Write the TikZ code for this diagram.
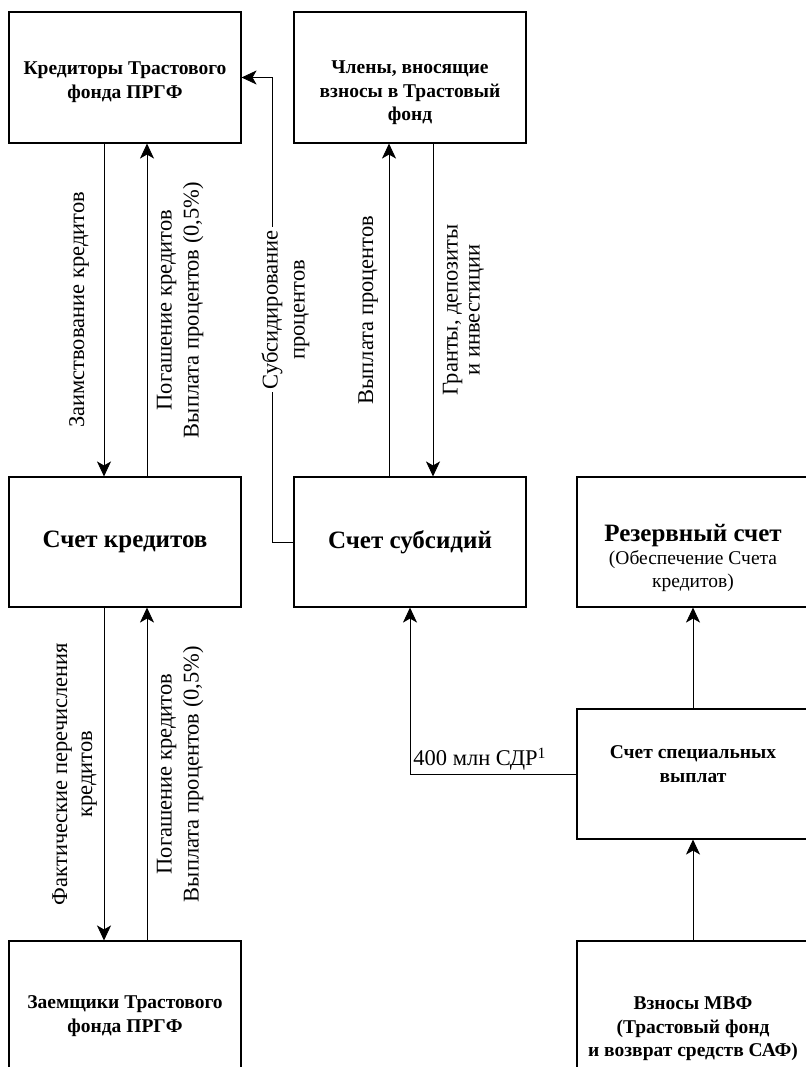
\documentclass[tikz,border=0pt]{standalone}
\usepackage{fontspec}
\setmainfont{Liberation Serif}
\usetikzlibrary{arrows.meta, positioning}

\begin{document}
\begin{tikzpicture}[
        x=1pt, y=-1pt,
        box/.style={draw, line width=1.1pt, minimum width=232pt, minimum height=131pt, align=center, inner sep=2pt},
        title/.style={font=\fontsize{19.5}{23.5}\selectfont\bfseries},
        bigtitle/.style={font=\fontsize{25}{30}\selectfont\bfseries},
        lbl/.style={font=\fontsize{22.5}{27}\selectfont, align=center, rotate=90, inner sep=0pt},
        flow/.style={line width=0.8pt},
        >={Stealth[length=15pt, width=14pt, inset=4pt]}
      ]
        \useasboundingbox (0,0) rectangle (805,1067);

        % boxes
        \node[box, title] (cred) at (125,77.5) {\rule{0pt}{22pt}Кредиторы Трастового\\фонда ПРГФ};
        \node[box, title] (memb) at (410,77.5) {\rule{0pt}{44pt}Члены, вносящие\\взносы в Трастовый\\фонд};
        \node[box, bigtitle, minimum height=130pt] (loans) at (125,542) {Счет кредитов};
        \node[box, bigtitle, minimum height=130pt] (subs) at (410,542) {Счет субсидий};
        \node[box, minimum height=130pt, font=\fontsize{19.5}{23}\selectfont] (resv) at (693,542)
          {\rule{0pt}{50pt}{\fontsize{25}{30}\selectfont\bfseries Резервный счет}\\(Обеспечение Счета\\кредитов)};
        \node[box, title, minimum height=130pt] (spec) at (693,774) {Счет специальных\\выплат\rule[-20pt]{0pt}{20pt}};
        \node[box, title] (borr) at (125,1006.5) {\rule{0pt}{32pt}Заемщики Трастового\\фонда ПРГФ};
        \node[box, title] (imf) at (693,1006.5) {\rule{0pt}{58pt}Взносы МВФ\\(Трастовый фонд\\и возврат средств САФ)};

        % flows between creditors, loans and borrowers
        \draw[flow, ->] ([xshift=-21pt]cred.south) -- node[lbl, anchor=south, outer sep=15pt] {Заимствование кредитов} ([xshift=-21pt]loans.north);
        \draw[flow, ->] ([xshift=22pt]loans.north) -- node[lbl, anchor=north, outer sep=10pt] {Погашение кредитов\\Выплата процентов (0,5\%)} ([xshift=22pt]cred.south);
        \draw[flow, ->] ([xshift=-21pt]loans.south) -- node[lbl, anchor=south, outer sep=7pt] {Фактические перечисления\\[-2pt]кредитов} ([xshift=-21pt]borr.north);
        \draw[flow, ->] ([xshift=22pt]borr.north) -- node[lbl, anchor=north, outer sep=10pt] {Погашение кредитов\\Выплата процентов (0,5\%)} ([xshift=22pt]loans.south);

        % subsidy flows
        \draw[flow, ->] (subs.west) -- ++(-21,0) |- node[lbl, pos=0.25, anchor=north, outer sep=-14pt, inner sep=3pt, fill=white] {Субсидирование\\процентов} (cred.east);
        \draw[flow, ->] ([xshift=-21pt]subs.north) -- node[lbl, anchor=south, outer sep=11pt] {Выплата процентов} ([xshift=-21pt]memb.south);
        \draw[flow, ->] ([xshift=23pt]memb.south) -- node[lbl, anchor=north, outer sep=10pt] {Гранты, депозиты\\[-5pt]и инвестиции} ([xshift=23pt]subs.north);

        % special payments
        \draw[flow, ->] (spec.west) -| node[pos=0.5, anchor=south west, inner sep=3pt, font=\fontsize{22.5}{27}\selectfont] {400 млн СДР\textsuperscript{1}} (subs.south);
        \draw[flow, ->] (spec) -- (resv);
        \draw[flow, ->] (imf) -- (spec);
    \end{tikzpicture}
\end{document}
